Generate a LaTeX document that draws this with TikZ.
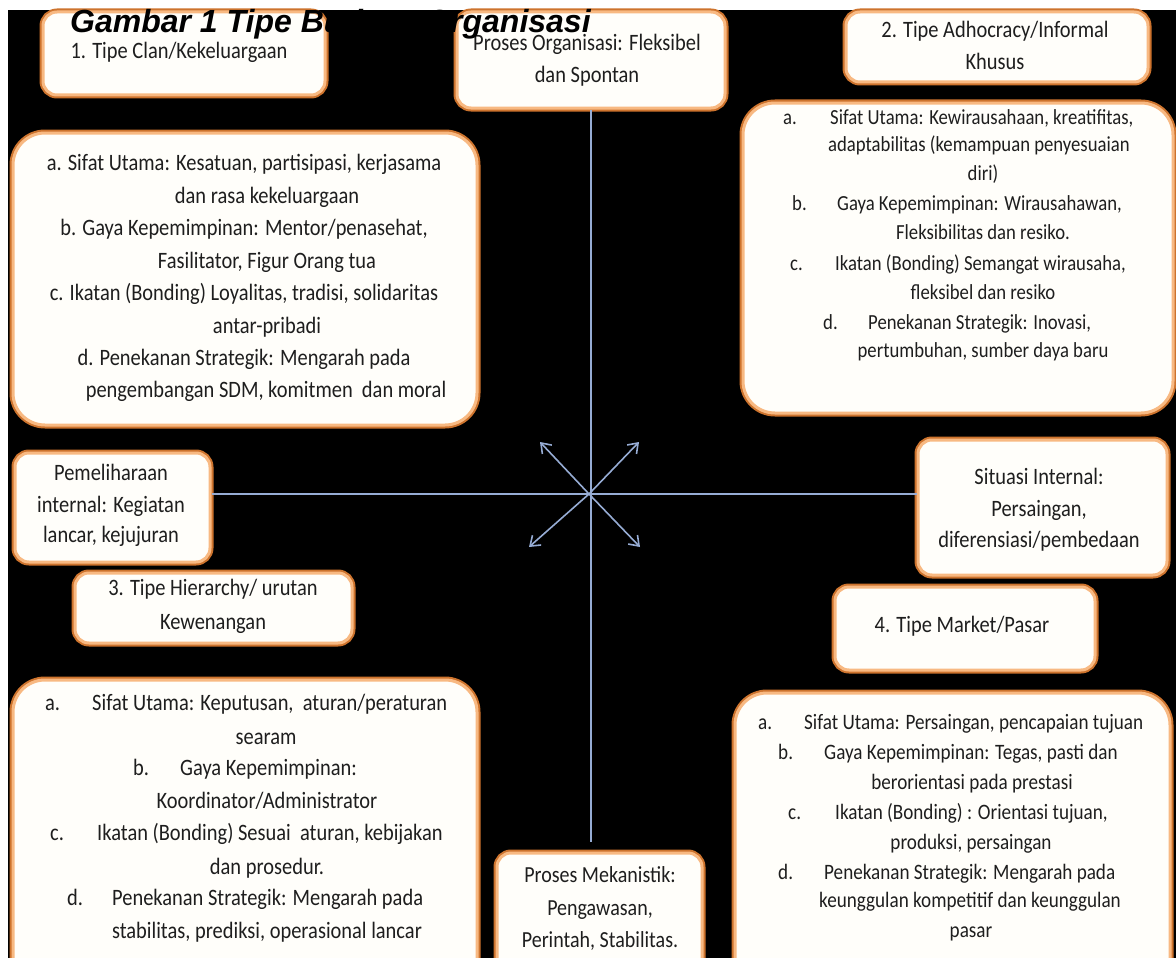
\documentclass[tikz,border=0pt]{standalone}
\usepackage{fontspec}
\setmainfont{Carlito}[FakeStretch=0.87]
\newfontfamily\titlefont{Liberation Sans}
\usetikzlibrary{arrows.meta}
\definecolor{ordark}{RGB}{205,115,45}
\definecolor{orlight}{RGB}{248,185,130}
\definecolor{boxfill}{RGB}{255,254,250}
\definecolor{linec}{RGB}{150,172,212}
\definecolor{txc}{RGB}{30,30,30}
\tikzset{
  box/.style={rectangle, rounded corners=14pt, fill=boxfill, draw=orlight, line width=3pt,
    preaction={draw=ordark, line width=7pt}, inner sep=0pt},
  bigbox/.style={box, rounded corners=32pt},
  conn/.style={draw=linec, line width=1.6pt},
  arr/.style={conn, -{Straight Barb[length=9pt,width=13pt,line width=1.6pt]}},
  tA/.style={inner sep=0pt, text=txc, font=\fontsize{23.5}{28}\selectfont},
  tB/.style={inner sep=0pt, text=txc, font=\fontsize{21.5}{26}\selectfont},
  tC/.style={inner sep=0pt, text=txc, font=\fontsize{22}{26}\selectfont},
  tM/.style={inner sep=0pt, text=txc, font=\fontsize{23}{27}\selectfont},
  tS/.style={inner sep=0pt, text=txc, font=\fontsize{23.5}{28}\selectfont},
}
\begin{document}
\begin{tikzpicture}[x=1pt,y=-1pt]
\useasboundingbox (0,0) rectangle (1176,958);
\clip (0,0) rectangle (1176,958);
\fill[white] (0,0) rectangle (1176,958);
\fill[black] (8,10) rectangle (1176,958);

% boxes
\node[box, minimum width=282pt, minimum height=83pt] (clan) at (184,53.5) {};
\node[box, minimum width=268pt, minimum height=96pt] (proses) at (591,60) {};
\node[box, minimum width=302pt, minimum height=70pt] (adhoct) at (997,47) {};
\node[bigbox, minimum width=464pt, minimum height=292pt] (clandet) at (245,279) {};
\node[bigbox, minimum width=430pt, minimum height=310pt] (adhocdet) at (958,258) {};
\node[box, minimum width=195pt, minimum height=109pt] (pem) at (112.5,507.5) {};
\node[box, minimum width=249pt, minimum height=135pt] (sit) at (1042.5,507.5) {};
\node[box, minimum width=277pt, minimum height=70pt] (hiert) at (213.5,608) {};
\node[box, minimum width=260pt, minimum height=83pt] (markt) at (965,628.5) {};
\node[bigbox, minimum width=464pt, minimum height=310pt] (hierdet) at (245,835) {};
\node[box, minimum width=205pt, minimum height=137pt] (meka) at (599.5,921.5) {};
\node[bigbox, minimum width=435pt, minimum height=297pt] (marketdet) at (952.5,841.5) {};

% connectors
\coordinate (ctr) at (589,494);
\coordinate (tl) at (540,442);
\coordinate (tr) at (639,442);
\coordinate (bl) at (529,547);
\coordinate (br) at (640,547);
\coordinate (mtop) at ([yshift=10pt]meka.north);
\draw[conn] (proses.south) -- (proses.south |- mtop);
\draw[conn] (pem.east |- ctr) -- (sit.west |- ctr);
\draw[arr] (ctr) -- (tl);
\draw[arr] (ctr) -- (tr);
\draw[arr] (ctr) -- (bl);
\draw[arr] (ctr) -- (br);

% small box texts
\node[tS, anchor=mid] (clan1) at (179,56) {1. Tipe Clan/Kekeluargaan};
\node[tS, anchor=mid] (pro1) at (587,48) {Proses Organisasi: Fleksibel};
\node[tS, anchor=mid] (pro2) at (587,80) {dan Spontan};
\node[tS, anchor=mid] (adt1) at (995,35) {2. Tipe Adhocracy/Informal};
\node[tS, anchor=mid] (adt2) at (995,67) {Khusus};
\node[tS, anchor=mid] (pem1) at (111,478) {Pemeliharaan};
\node[tS, anchor=mid] (pem2) at (111,510) {internal: Kegiatan};
\node[tS, anchor=mid] (pem3) at (111,540) {lancar, kejujuran};
\node[tS, anchor=mid] (sit1) at (1039,482) {Situasi Internal:};
\node[tS, anchor=mid] (sit2) at (1039,514) {Persaingan,};
\node[tS, anchor=mid] (sit3) at (1039,545) {diferensiasi/pembedaan};
\node[tS, anchor=mid] (hit1) at (213,593) {3. Tipe Hierarchy/ urutan};
\node[tS, anchor=mid] (hit2) at (213,627) {Kewenangan};
\node[tS, anchor=mid] (mkt1) at (962,630) {4. Tipe Market/Pasar};
\node[tM, anchor=mid] (mek1) at (600,880) {Proses Mekanistik:};
\node[tM, anchor=mid] (mek2) at (600,913) {Pengawasan,};
\node[tM, anchor=mid] (mek3) at (600,945) {Perintah, Stabilitas.};

% clan detail
\node[tA, anchor=mid] (cd1) at (244,168) {a. Sifat Utama: Kesatuan, partisipasi, kerjasama};
\node[tA, anchor=mid] (cd2) at (267,201) {dan rasa kekeluargaan};
\node[tA, anchor=mid] (cd3) at (244,233) {b. Gaya Kepemimpinan: Mentor/penasehat,};
\node[tA, anchor=mid] (cd4) at (267,266) {Fasilitator, Figur Orang tua};
\node[tA, anchor=mid] (cd5) at (244,298) {c. Ikatan (Bonding) Loyalitas, tradisi, solidaritas};
\node[tA, anchor=mid] (cd6) at (267,331) {antar-pribadi};
\node[tA, anchor=mid] (cd7) at (244,363) {d. Penekanan Strategik: Mengarah pada};
\node[tA, anchor=mid] (cd8) at (266,395) {pengembangan SDM, komitmen\ \ dan moral};

% adhocracy detail
\node[tB, anchor=mid west] (ad1a) at (783,122) {a.};
\node[tB, anchor=mid west] (ad1) at (830,122) {Sifat Utama: Kewirausahaan, kreatifitas,};
\node[tB, anchor=mid west] (ad2) at (828,149) {adaptabilitas (kemampuan penyesuaian};
\node[tB, anchor=mid] (ad3) at (983,178) {diri)};
\node[tB, anchor=mid west] (ad4a) at (792,208) {b.};
\node[tB, anchor=mid west] (ad4) at (837,208) {Gaya Kepemimpinan: Wirausahawan,};
\node[tB, anchor=mid] (ad5) at (983,237) {Fleksibilitas dan resiko.};
\node[tB, anchor=mid west] (ad6a) at (790,268) {c.};
\node[tB, anchor=mid west] (ad6) at (835,268) {Ikatan (Bonding) Semangat wirausaha,};
\node[tB, anchor=mid] (ad7) at (983,297) {fleksibel dan resiko};
\node[tB, anchor=mid west] (ad8a) at (823,327) {d.};
\node[tB, anchor=mid west] (ad8) at (868,327) {Penekanan Strategik: Inovasi,};
\node[tB, anchor=mid] (ad9) at (983,355) {pertumbuhan, sumber daya baru};

% hierarchy detail
\node[tA, anchor=mid west] (hd1a) at (45,708) {a.};
\node[tA, anchor=mid west] (hd1) at (92,708) {Sifat Utama: Keputusan,\ \ aturan/peraturan};
\node[tA, anchor=mid] (hd2) at (266,742) {searam};
\node[tA, anchor=mid west] (hd3a) at (133,773) {b.};
\node[tA, anchor=mid west] (hd3) at (180,773) {Gaya Kepemimpinan:};
\node[tA, anchor=mid] (hd4) at (267,806) {Koordinator/Administrator};
\node[tA, anchor=mid west] (hd5a) at (50,838) {c.};
\node[tA, anchor=mid west] (hd5) at (97,838) {Ikatan (Bonding) Sesuai\ \ aturan, kebijakan};
\node[tA, anchor=mid] (hd6) at (267,872) {dan prosedur.};
\node[tA, anchor=mid west] (hd7a) at (67,903) {d.};
\node[tA, anchor=mid west] (hd7) at (112,903) {Penekanan Strategik: Mengarah pada};
\node[tA, anchor=mid] (hd8) at (267,936) {stabilitas, prediksi, operasional lancar};

% market detail
\node[tC, anchor=mid west] (md1a) at (758,727) {a.};
\node[tC, anchor=mid west] (md1) at (804,727) {Sifat Utama: Persaingan, pencapaian tujuan};
\node[tC, anchor=mid west] (md2a) at (778,757) {b.};
\node[tC, anchor=mid west] (md2) at (824,757) {Gaya Kepemimpinan: Tegas, pasti dan};
\node[tC, anchor=mid] (md3) at (972,787) {berorientasi pada prestasi};
\node[tC, anchor=mid west] (md4a) at (788,817) {c.};
\node[tC, anchor=mid west] (md4) at (835,817) {Ikatan (Bonding) : Orientasi tujuan,};
\node[tC, anchor=mid] (md5) at (971,847) {produksi, persaingan};
\node[tC, anchor=mid west] (md6a) at (778,877) {d.};
\node[tC, anchor=mid west] (md6) at (824,877) {Penekanan Strategik: Mengarah pada};
\node[tC, anchor=mid] (md7) at (970,905) {keunggulan kompetitif dan keunggulan};
\node[tC, anchor=mid] (md8) at (971,935) {pasar};

% title
\node[anchor=base west, inner sep=0pt, text=black,
  font=\titlefont\bfseries\itshape\fontsize{32}{36}\selectfont] (title) at (70,33) {Gambar 1 Tipe Budaya Organisasi};
\end{tikzpicture}
\end{document}
